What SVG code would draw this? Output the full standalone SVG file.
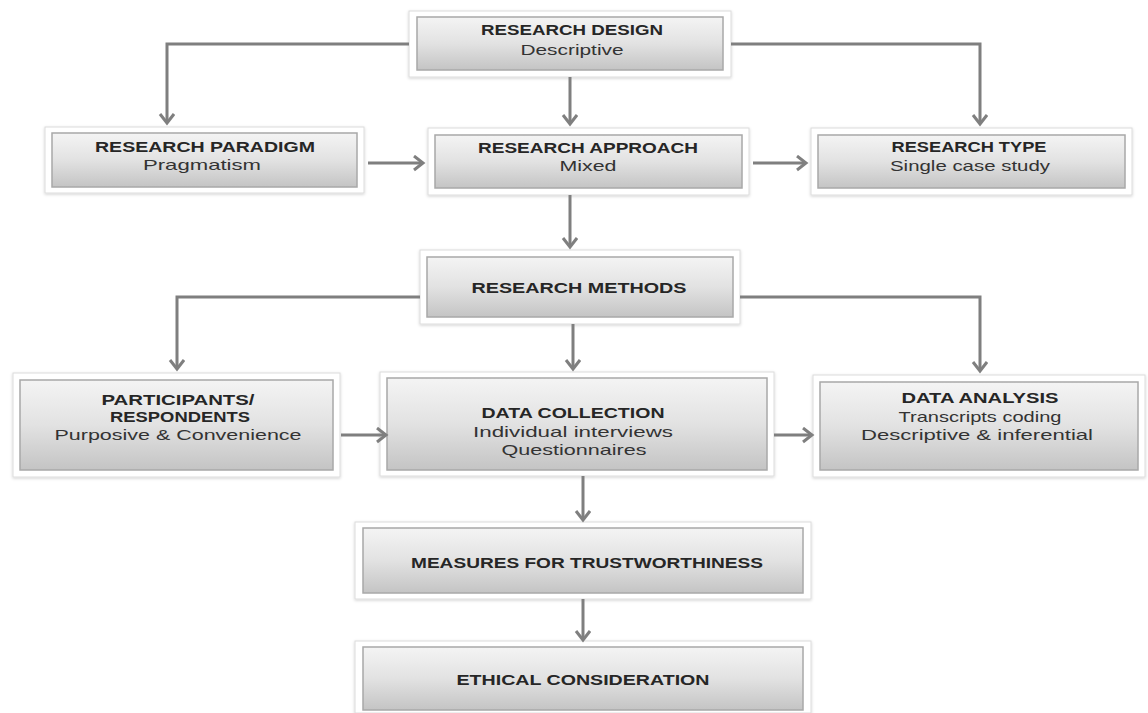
<svg xmlns="http://www.w3.org/2000/svg" width="1148" height="713" viewBox="0 0 1148 713">
<style>
.frame{fill:#ffffff;stroke:#dcdcdc;stroke-width:1;filter:url(#sh)}
.box{fill:url(#g);stroke:#a8a8a8;stroke-width:1.5}
.t{font-family:"Liberation Sans",Arial,sans-serif;font-size:15px;font-weight:bold;fill:#262626;text-anchor:middle}
.s{font-family:"Liberation Sans",Arial,sans-serif;font-size:15px;fill:#333333;text-anchor:middle}
.c{fill:none;stroke:#7f7f7f;stroke-width:3;marker-end:url(#ah)}
</style>
<defs>
<linearGradient id="g" x1="0" y1="0" x2="0" y2="1">
<stop offset="0" stop-color="#f4f4f4"/>
<stop offset="0.5" stop-color="#e2e2e2"/>
<stop offset="1" stop-color="#c4c4c4"/>
</linearGradient>
<filter id="sh" x="-5%" y="-10%" width="110%" height="125%">
<feDropShadow dx="0" dy="1" stdDeviation="1.5" flood-color="#000" flood-opacity="0.18"/>
</filter>
<marker id="ah" markerUnits="userSpaceOnUse" markerWidth="16" markerHeight="18" refX="11" refY="8" orient="auto">
<path d="M2,1 L11,8 L2,15" fill="none" stroke="#7f7f7f" stroke-width="3"/>
</marker>
</defs>

<g id="research-design">
<rect class="frame" x="409" y="11" width="322" height="66"/>
<rect class="box" x="417" y="17" width="306" height="53"/>
<text class="t" x="572" y="35" textLength="182" lengthAdjust="spacingAndGlyphs">RESEARCH DESIGN</text>
<text class="s" x="572" y="55" textLength="103" lengthAdjust="spacingAndGlyphs">Descriptive</text>
</g>

<g id="research-paradigm">
<rect class="frame" x="45" y="127" width="319" height="66"/>
<rect class="box" x="52" y="133" width="305" height="54"/>
<text class="t" x="205" y="152" textLength="220" lengthAdjust="spacingAndGlyphs">RESEARCH PARADIGM</text>
<text class="s" x="202" y="170" textLength="118" lengthAdjust="spacingAndGlyphs">Pragmatism</text>
</g>

<g id="research-approach">
<rect class="frame" x="428" y="128" width="321" height="67"/>
<rect class="box" x="435" y="135" width="307" height="53"/>
<text class="t" x="588" y="153" textLength="220" lengthAdjust="spacingAndGlyphs">RESEARCH APPROACH</text>
<text class="s" x="588" y="171" textLength="57" lengthAdjust="spacingAndGlyphs">Mixed</text>
</g>

<g id="research-type">
<rect class="frame" x="811" y="128" width="321" height="67"/>
<rect class="box" x="818" y="135" width="307" height="53"/>
<text class="t" x="969" y="152" textLength="155" lengthAdjust="spacingAndGlyphs">RESEARCH TYPE</text>
<text class="s" x="970" y="171" textLength="160" lengthAdjust="spacingAndGlyphs">Single case study</text>
</g>

<g id="research-methods">
<rect class="frame" x="420" y="250" width="320" height="74"/>
<rect class="box" x="427" y="257" width="306" height="60"/>
<text class="t" x="579" y="293" textLength="215" lengthAdjust="spacingAndGlyphs">RESEARCH METHODS</text>
</g>

<g id="participants">
<rect class="frame" x="13" y="373" width="327" height="104"/>
<rect class="box" x="20" y="380" width="313" height="90"/>
<text class="t" x="178" y="405" textLength="153" lengthAdjust="spacingAndGlyphs">PARTICIPANTS/</text>
<text class="t" x="180" y="422" textLength="140" lengthAdjust="spacingAndGlyphs">RESPONDENTS</text>
<text class="s" x="178" y="440" textLength="247" lengthAdjust="spacingAndGlyphs">Purposive &amp; Convenience</text>
</g>

<g id="data-collection">
<rect class="frame" x="380" y="372" width="394" height="104"/>
<rect class="box" x="387" y="378" width="380" height="92"/>
<text class="t" x="573" y="418" textLength="183" lengthAdjust="spacingAndGlyphs">DATA COLLECTION</text>
<text class="s" x="573" y="437" textLength="200" lengthAdjust="spacingAndGlyphs">Individual interviews</text>
<text class="s" x="574" y="455" textLength="145" lengthAdjust="spacingAndGlyphs">Questionnaires</text>
</g>

<g id="data-analysis">
<rect class="frame" x="813" y="375" width="332" height="102"/>
<rect class="box" x="820" y="382" width="318" height="88"/>
<text class="t" x="980" y="403" textLength="157" lengthAdjust="spacingAndGlyphs">DATA ANALYSIS</text>
<text class="s" x="980" y="422" textLength="163" lengthAdjust="spacingAndGlyphs">Transcripts coding</text>
<text class="s" x="977" y="440" textLength="232" lengthAdjust="spacingAndGlyphs">Descriptive &amp; inferential</text>
</g>

<g id="measures">
<rect class="frame" x="355" y="522" width="456" height="77"/>
<rect class="box" x="363" y="528" width="440" height="65"/>
<text class="t" x="587" y="568" textLength="352" lengthAdjust="spacingAndGlyphs">MEASURES FOR TRUSTWORTHINESS</text>
</g>

<g id="ethical">
<rect class="frame" x="355" y="641" width="456" height="72"/>
<rect class="box" x="363" y="647" width="440" height="63"/>
<text class="t" x="583" y="685" textLength="253" lengthAdjust="spacingAndGlyphs">ETHICAL CONSIDERATION</text>
</g>

<g id="connectors">
<path class="c" d="M409,44 H167 V123"/>
<path class="c" d="M570,77 V124"/>
<path class="c" d="M731,44 H980 V124"/>
<path class="c" d="M368,163 H423"/>
<path class="c" d="M753,163 H806"/>
<path class="c" d="M570,195 V247"/>
<path class="c" d="M420,297 H177 V369"/>
<path class="c" d="M573,324 V369"/>
<path class="c" d="M740,297 H980 V371"/>
<path class="c" d="M341,435 H386"/>
<path class="c" d="M774,435 H812"/>
<path class="c" d="M583,476 V520"/>
<path class="c" d="M583,599 V640"/>
</g>
</svg>
